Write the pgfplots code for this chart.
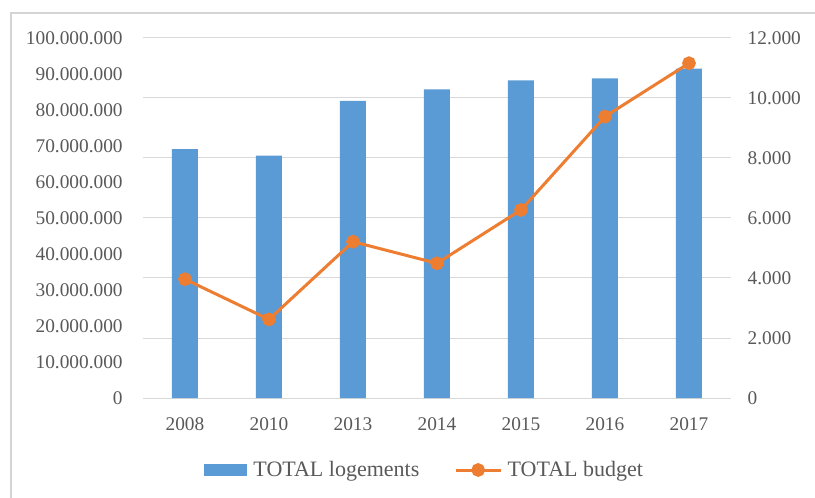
\documentclass[border=0pt]{standalone}
\usepackage{pgfplots}
\pgfplotsset{compat=1.18}
\usepackage{fontspec}
\setmainfont{Liberation Serif}
\definecolor{barblue}{HTML}{5B9BD5}
\definecolor{lineorange}{HTML}{ED7D31}
\definecolor{gridgray}{HTML}{D9D9D9}
\definecolor{textgray}{HTML}{595959}
\definecolor{framegray}{HTML}{D4D4D4}

\begin{document}
\begin{tikzpicture}
\useasboundingbox (0pt,0pt) rectangle (611.25pt,372.75pt);
\draw[framegray, line width=1.5pt] (8.25pt,-5pt) -- (8.25pt,363pt) -- (620pt,363pt);

\pgfplotsset{
  base/.style={
    at={(107.25pt,74.25pt)}, anchor=south west,
    scale only axis, width=441pt, height=270pt,
    xmin=-0.5, xmax=6.5, ymin=0,
    tick label style={font=\fontsize{14.5}{17}\selectfont, text=textgray},
    /pgf/number format/fixed,
    /pgf/number format/precision=0,
    /pgf/number format/1000 sep={.},
    /pgf/number format/assume math mode=true,
    scaled y ticks=false,
  }
}

% bars: TOTAL logements (left axis)
\begin{axis}[base,
  ymax=100000000, ytick={0,10000000,20000000,30000000,40000000,50000000,60000000,70000000,80000000,90000000,100000000},
  axis y line*=left, y axis line style={draw=none}, ytick style={draw=none},
  axis x line*=bottom, x axis line style={gridgray, line width=0.75pt},
  xtick={0,...,6}, xticklabels={2008,2010,2013,2014,2015,2016,2017},
  xtick style={draw=none},
  minor xtick={-0.5,0.5,...,6.5},
  minor tick style={gridgray, line width=0.75pt},
  minor tick length=5pt, tick align=outside,
  extra y ticks={16666666.67,33333333.33,50000000,66666666.67,83333333.33,100000000},
  extra y tick labels={},
  extra y tick style={grid=major, major grid style={gridgray, line width=0.75pt}, major tick length=0pt},
  ybar, bar width=19.5pt,
  yticklabel style={xshift=-7.5pt},
  xticklabel style={yshift=-7pt},
]
\addplot[fill=barblue, draw=none] coordinates {
  (0,69100000) (1,67300000) (2,82500000) (3,85700000)
  (4,88200000) (5,88800000) (6,91500000)};
\end{axis}

% line: TOTAL budget (right axis)
\begin{axis}[base,
  ymax=12000, ytick={0,2000,...,12000},
  axis y line*=right, y axis line style={draw=none}, ytick style={draw=none},
  axis x line=none,
  yticklabel style={xshift=9pt},
  legend style={at={(0.479,-0.2)}, anchor=center, draw=none, fill=none,
    legend columns=2, font=\fontsize{16.5}{19}\selectfont, text=textgray,
    /tikz/every even column/.append style={column sep=24pt}},
]
\addlegendimage{legend image code/.code={\fill[barblue] (0pt,-4.1pt) rectangle (32pt,4.1pt);
    \path (35pt,0pt);}}
\addlegendentry{TOTAL logements}
\addplot[lineorange, line width=2.25pt, mark=*, mark size=4pt,
  mark options={fill=lineorange, draw=lineorange},
  legend image code/.code={\draw[lineorange, line width=2.25pt] (0pt,0pt) -- (34pt,0pt);
    \fill[lineorange] (17pt,0pt) circle (4pt); \path (36pt,0pt);}] coordinates {
  (0,3960) (1,2620) (2,5210) (3,4490) (4,6270) (5,9380) (6,11160)};
\addlegendentry{TOTAL budget}
\end{axis}
\end{tikzpicture}
\end{document}
